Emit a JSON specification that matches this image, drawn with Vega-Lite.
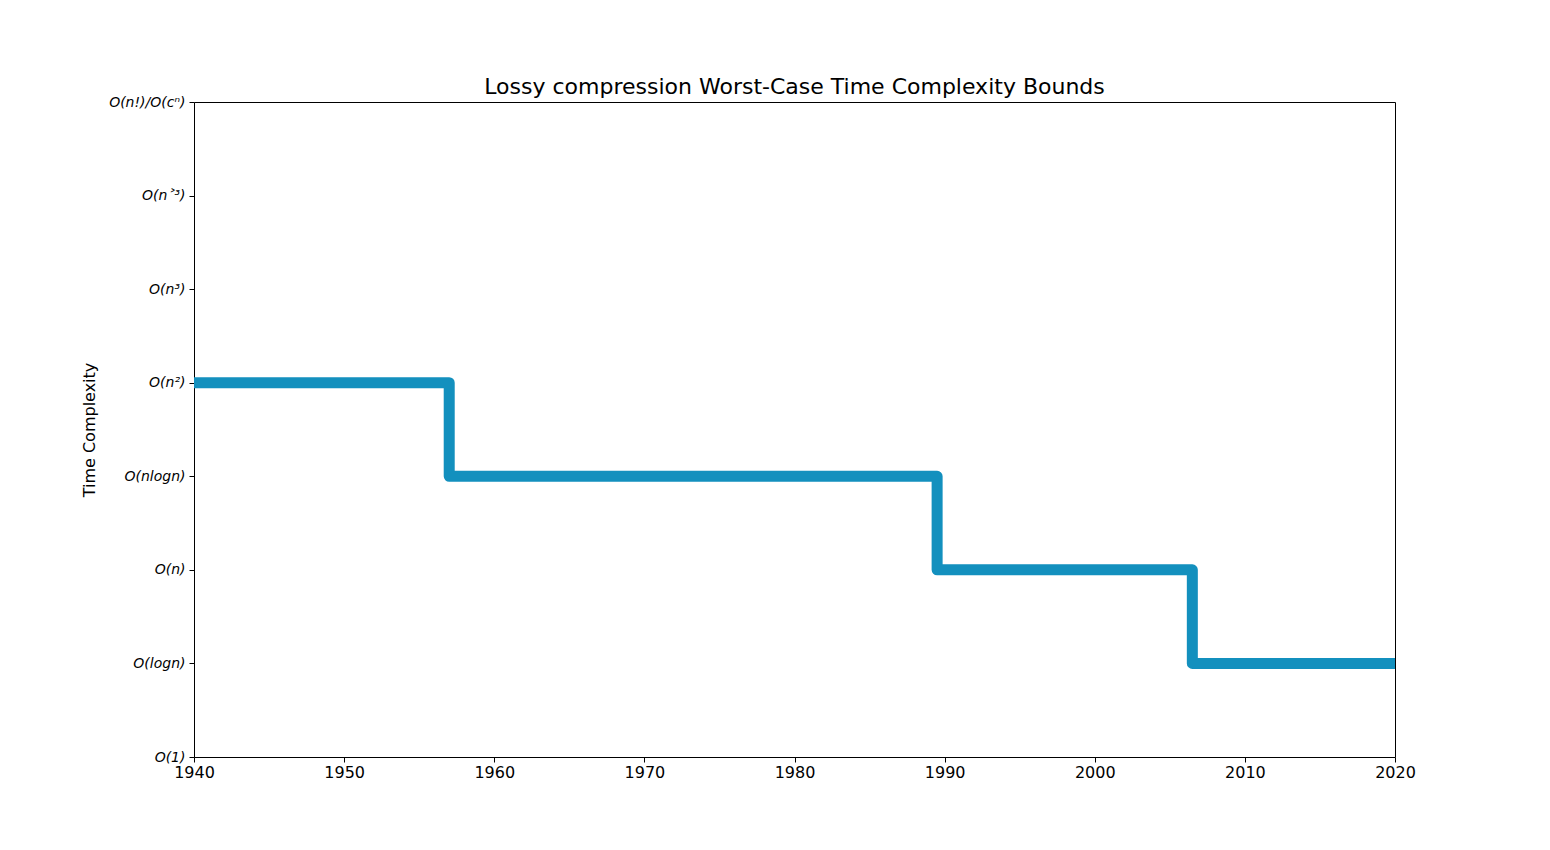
{
  "$schema": "https://vega.github.io/schema/vega-lite/v6.json",
  "autosize": "none",
  "width": 1201,
  "height": 655,
  "padding": {"left": 194, "top": 102, "right": 155, "bottom": 93},
  "background": "white",
  "config": {
    "view": {"stroke": "black", "strokeWidth": 1},
    "font": "DejaVu Sans"
  },
  "title": {
    "text": "Lossy compression Worst-Case Time Complexity Bounds",
    "fontSize": 22,
    "fontWeight": "normal",
    "font": "DejaVu Sans",
    "color": "black",
    "offset": 5,
    "dy": 9
  },
  "data": {
    "values": [
      {"year": 1940, "complexity": 4},
      {"year": 1957, "complexity": 3},
      {"year": 1989.5, "complexity": 2},
      {"year": 2006.5, "complexity": 1},
      {"year": 2020, "complexity": 1}
    ]
  },
  "mark": {
    "type": "line",
    "interpolate": "step-after",
    "color": "#1390be",
    "strokeWidth": 11,
    "strokeJoin": "round",
    "strokeCap": "butt",
    "clip": true
  },
  "encoding": {
    "x": {
      "field": "year",
      "type": "quantitative",
      "scale": {"domain": [1940, 2020], "nice": false, "zero": false},
      "axis": {
        "title": null,
        "values": [1940, 1950, 1960, 1970, 1980, 1990, 2000, 2010, 2020],
        "format": "d",
        "grid": false,
        "domain": false,
        "tickColor": "black",
        "tickSize": 5,
        "labelFontSize": 16,
        "labelColor": "black",
        "labelPadding": 2,
        "labelFlush": false,
        "labelFont": "DejaVu Sans"
      }
    },
    "y": {
      "field": "complexity",
      "type": "quantitative",
      "scale": {"domain": [0, 7], "nice": false},
      "axis": {
        "title": "Time Complexity",
        "titleFontSize": 16,
        "titleFontWeight": "normal",
        "titleColor": "black",
        "titlePadding": 11,
        "titleFont": "DejaVu Sans",
        "values": [0, 1, 2, 3, 4, 5, 6, 7],
        "labelExpr": "['O(1)','O(logn)','O(n)','O(nlogn)','O(n²)','O(n³)','O(n˃³)','O(n!)/O(cⁿ)'][datum.value]",
        "labelFontStyle": "italic",
        "labelFontSize": 14,
        "labelColor": "black",
        "labelFont": "DejaVu Sans",
        "labelFlush": false,
        "grid": false,
        "domain": false,
        "tickColor": "black",
        "tickSize": 5,
        "labelPadding": 4
      }
    }
  }
}
